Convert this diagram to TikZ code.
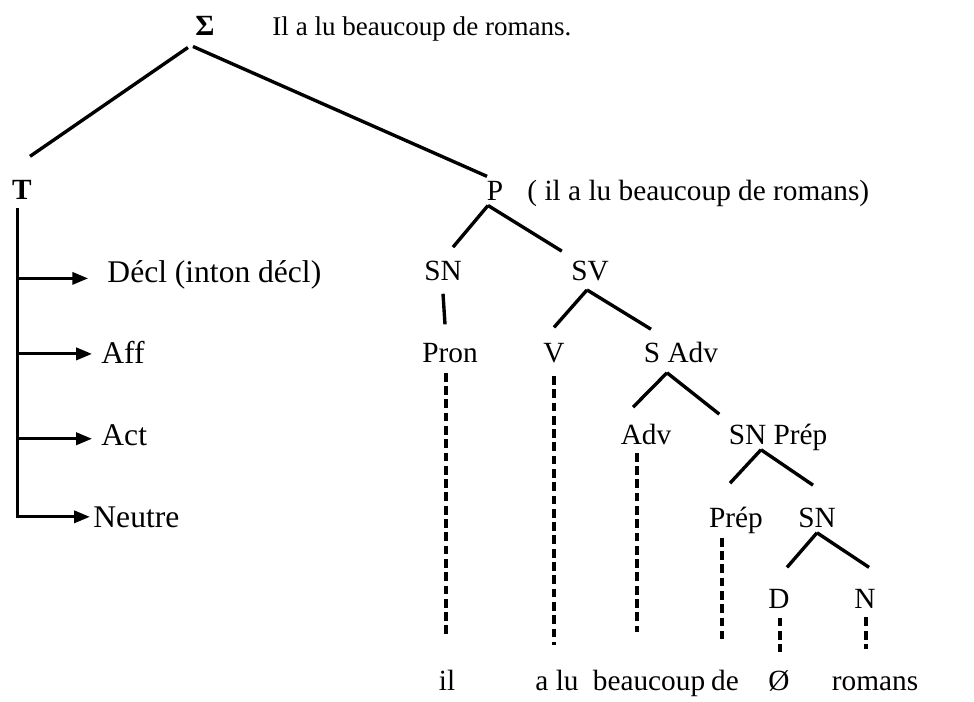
\documentclass[tikz,border=0pt]{standalone}
\usepackage{fontspec}
\setmainfont{Liberation Serif}
\usetikzlibrary{arrows.meta}

\begin{document}
\begin{tikzpicture}[x=0.0156cm, y=-0.0156cm,
        wort/.style={anchor=base, inner sep=4pt, font=\fontsize{13}{15}\selectfont},
        kopf/.style={wort, font=\fontsize{12}{14}\selectfont},
        modal/.style={wort, anchor=base west, font=\fontsize{14}{16}\selectfont},
        ast/.style={line width=1.5pt},
        blatt/.style={line width=1.5pt, dash pattern=on 3.9pt off 2pt},
        pfeil/.style={line width=1.3pt, -{Triangle[length=7pt,width=5.4pt]}}]

            \useasboundingbox (0,0) rectangle (974,701);

            % Wurzel
            \node[wort] (sigma) at (205,35) {\textbf{Σ}};
            \node[kopf, anchor=base west] (satz) at (263,35) {Il a lu beaucoup de romans.};

            % T mit Modalitaeten
            \node[wort] (T) at (22,199) {\textbf{T}};
            \node[modal] (decl) at (98,282) {Décl (inton décl)};
            \node[modal] (aff) at (92,363) {Aff};
            \node[modal] (act) at (92,445) {Act};
            \node[modal] (neutre) at (84,527) {Neutre};

            \coordinate (stamm) at ([xshift=-1.8pt]T.south);
            \draw[pfeil] (stamm) |- ([xshift=2.6pt]neutre.west);
            \foreach \z/\k/\dy in {decl/4.4pt/4, aff/0pt/2, act/0pt/4} {
                \draw[pfeil, shorten >=\k] ([shift={(0,\dy)}]stamm |- \z.west) -- ([shift={(0,\dy)}]\z.west);
            }

            % Konstituenten von P
            \node[wort] (P) at (495,200) {P};
            \node[wort, anchor=base west] (glosse) at (518,200) {( il a lu beaucoup de romans)};
            \node[wort] (sn) at (443,280) {SN};
            \node[wort] (sv) at (590,280) {SV};
            \node[wort] (pron) at (450,362) {Pron};
            \node[wort] (v) at (554,362) {V};
            \node[wort] (sadv) at (681,362) {S Adv};
            \node[wort] (adv) at (646,444) {Adv};
            \node[wort] (snprep) at (778,444) {SN Prép};
            \node[wort] (prep) at (736,527) {Prép};
            \node[wort] (sn2) at (817,527) {SN};
            \node[wort] (d) at (779,608) {D};
            \node[wort] (n) at (865,608) {N};

            % Woerter unten
            \node[wort] (il) at (447,690) {il};
            \node[wort] (alu) at (557,690) {a lu};
            \node[wort] (beaucoup) at (649,690) {beaucoup};
            \node[wort] (de) at (725,690) {de};
            \node[wort] (null) at (779,690) {Ø};
            \node[wort] (romans) at (875,690) {romans};

            % Aeste
            \draw[ast] ([shift={(2,3)}]sigma.south west) -- ([shift={(8,-14)}]T.north);
            \draw[ast] ([shift={(7,2)}]sigma.south west) -- ([shift={(-8,5)}]P.north);
            \draw[ast] ([shift={(-7,-4)}]P.south) -- ([shift={(10,-4)}]sn.north);
            \draw[ast] ([shift={(-7,-4)}]P.south) -- (sv.north west);
            \draw[ast] ([shift={(0,4)}]sn.south) -- ([shift={(-5,-9)}]pron.north);
            \draw[ast] ([shift={(-3,0)}]sv.south) -- ([shift={(0,-6)}]v.north);
            \draw[ast] ([shift={(-3,0)}]sv.south) -- ([shift={(-30,-3)}]sadv.north);
            \draw[ast] ([shift={(-14,1)}]sadv.south) -- ([shift={(-13,-7)}]adv.north);
            \draw[ast] ([shift={(-14,1)}]sadv.south) -- (snprep.north west);
            \draw[ast] ([shift={(-17,-10)}]snprep.south) -- ([shift={(-6,-14)}]prep.north);
            \draw[ast] ([shift={(-17,-10)}]snprep.south) -- ([shift={(-4,-13)}]sn2.north);
            \draw[ast] ([shift={(0,-4)}]sn2.south) -- ([shift={(8,-12)}]d.north);
            \draw[ast] ([shift={(0,-4)}]sn2.south) -- ([shift={(4,-12)}]n.north);

            % gestrichelte Linien zu den Woertern
            \foreach \k/\w/\dx/\ya/\yb in {pron/il/-1/1/-23, v/alu/-3/4/-15,
                    adv/beaucoup/-12/-1/-28, prep/de/-3/-5/-21,
                    d/null/1/0/-9, n/romans/-9/0/-18} {
                \draw[blatt] ([shift={(\dx,\ya)}]\w.north |- \k.south) -- ([shift={(\dx,\yb)}]\w.north);
            }
        \end{tikzpicture}
\end{document}
